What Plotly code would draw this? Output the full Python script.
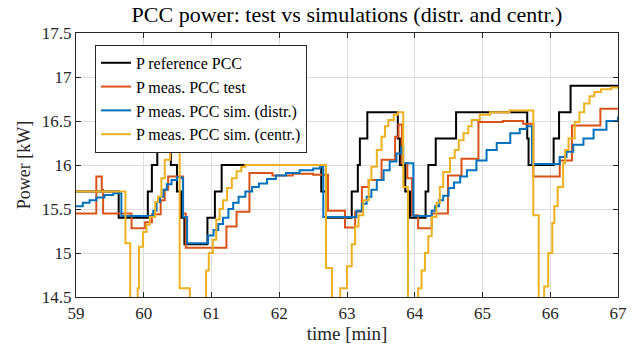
import plotly.graph_objects as go

# ---------------- data ----------------
ref_t = [59.00, 59.63, 60.06, 60.12, 60.20, 60.40, 60.49, 60.55, 60.60, 60.94, 61.05, 61.15,
         62.62, 62.69, 63.07, 63.16, 63.19, 63.30, 63.75, 63.78, 63.86, 63.93, 64.16, 64.20,
         64.31, 64.61, 65.66, 65.68, 66.05, 66.13, 66.30, 67.00]
ref_p = [15.7, 15.4, 15.7, 16.0, 16.3, 16.0, 15.7, 15.4, 15.1, 15.4, 15.7, 16.0,
         15.7, 15.4, 15.7, 16.0, 16.3, 16.6, 16.3, 16.0, 15.7, 15.4, 15.7, 16.0,
         16.3, 16.6, 16.3, 16.0, 16.3, 16.6, 16.9, 16.9]

test_t = [59.00, 59.30, 59.38, 59.40, 59.82, 60.02, 60.12, 60.25, 60.31, 60.36, 60.58, 60.62,
          61.22, 61.37, 61.56, 61.90, 62.20, 62.50, 62.72, 62.97, 63.12, 63.22, 63.32, 63.51,
          63.71, 63.76, 63.81, 63.89, 63.96, 64.05, 64.25, 64.49, 64.69, 64.94, 65.30, 65.60,
          65.75, 66.14, 66.32, 66.74, 67.00]
test_p = [15.45, 15.87, 15.72, 15.45, 15.28, 15.35, 15.44, 15.60, 15.72, 15.87, 15.45, 15.06,
          15.30, 15.47, 15.91, 15.88, 15.90, 15.89, 15.48, 15.29, 15.47, 15.75, 15.83, 16.06,
          16.32, 16.46, 16.02, 15.85, 15.43, 15.28, 15.45, 15.88, 16.07, 16.49, 16.50, 16.47,
          15.87, 16.05, 16.45, 16.64, 16.64]

distr_t = [59.00, 59.10, 59.20, 59.30, 59.42, 59.55, 59.67, 60.14, 60.19, 60.24, 60.29, 60.34,
           60.41, 60.49, 60.56, 60.58, 60.64, 60.95, 61.03, 61.10, 61.17, 61.25, 61.32, 61.40,
           61.50, 61.60, 61.70, 61.82, 61.95, 62.10, 62.30, 62.50, 62.60, 62.65, 63.14, 63.22,
           63.29, 63.36, 63.44, 63.54, 63.63, 63.73, 63.80, 63.83, 63.98, 64.25, 64.30, 64.36,
           64.42, 64.50, 64.58, 64.67, 64.77, 64.91, 65.06, 65.21, 65.41, 65.55, 65.65, 65.73,
           66.14, 66.24, 66.34, 66.49, 66.64, 66.83, 67.00]
distr_p = [15.53, 15.57, 15.60, 15.63, 15.66, 15.68, 15.42, 15.48, 15.58, 15.64, 15.72, 15.78,
           15.83, 15.86, 15.85, 15.41, 15.11, 15.20, 15.26, 15.33, 15.40, 15.50, 15.57, 15.64,
           15.70, 15.75, 15.79, 15.84, 15.88, 15.91, 15.94, 15.96, 15.98, 15.41, 15.48, 15.56,
           15.64, 15.72, 15.83, 15.94, 16.04, 16.13, 16.20, 16.02, 15.42, 15.48, 15.53, 15.60,
           15.65, 15.74, 15.80, 15.87, 15.94, 16.05, 16.17, 16.25, 16.36, 16.41, 16.44, 16.01,
           16.09, 16.15, 16.23, 16.30, 16.40, 16.50, 16.55]

centr_t = [59.00, 59.73, 59.80, 59.91, 59.93, 59.99, 60.04, 60.09, 60.17, 60.21, 60.26, 60.31,
           60.39, 60.53, 60.68, 60.92, 60.96, 61.02, 61.07, 61.12, 61.17, 61.23, 61.30, 61.37,
           61.44, 61.50, 62.69, 62.78, 62.90, 63.00, 63.07, 63.12, 63.17, 63.24, 63.32, 63.36,
           63.44, 63.51, 63.56, 63.61, 63.69, 63.75, 63.83, 63.90, 64.05, 64.10, 64.15, 64.20,
           64.25, 64.32, 64.37, 64.42, 64.52, 64.59, 64.65, 64.72, 64.79, 64.84, 64.96, 65.11,
           65.40, 65.75, 65.83, 65.91, 65.97, 66.03, 66.06, 66.11, 66.19, 66.22, 66.27, 66.36,
           66.43, 66.50, 66.58, 66.65, 66.75, 66.90, 67.00]
centr_p = [15.70, 15.11, 14.20, 14.60, 15.07, 15.24, 15.32, 15.41, 15.58, 15.64, 15.85, 16.06,
           16.19, 14.60, 14.20, 14.80, 15.00, 15.15, 15.38, 15.50, 15.60, 15.74, 15.85, 15.93,
           15.98, 16.00, 14.83, 14.20, 14.60, 14.85, 15.10, 15.30, 15.43, 15.60, 15.83, 15.98,
           16.17, 16.32, 16.44, 16.51, 16.57, 16.60, 15.75, 14.20, 14.60, 14.80, 15.00, 15.19,
           15.41, 15.57, 15.75, 15.92, 16.08, 16.17, 16.28, 16.36, 16.44, 16.51, 16.57, 16.60,
           16.62, 15.43, 14.20, 14.62, 15.00, 15.34, 15.53, 15.75, 16.02, 16.17, 16.30, 16.49,
           16.60, 16.70, 16.78, 16.83, 16.86, 16.88, 16.88]

series_names = ["P reference PCC", "P meas. PCC test",
                "P meas. PCC sim. (distr.)", "P meas. PCC sim. (centr.)"]
series_colors = ["#000000", "#D95319", "#0072BD", "#EDB120"]

x_ticks = [59, 60, 61, 62, 63, 64, 65, 66, 67]
y_ticks = [14.5, 15, 15.5, 16, 16.5, 17, 17.5]
y_ticktext = ["14.5", "15", "15.5", "16", "16.5", "17", "17.5"]

FONT = "Liberation Serif"

fig = go.Figure()
for t, p, name, col in zip([ref_t, test_t, distr_t, centr_t],
                           [ref_p, test_p, distr_p, centr_p],
                           series_names, series_colors):
    fig.add_trace(go.Scatter(x=t, y=p, mode="lines", name=name,
                             line=dict(color=col, width=2, shape="hv")))

axis_common = dict(showline=True, linecolor="#262626", linewidth=1.3, mirror="ticks",
                   ticks="inside", ticklen=5, tickcolor="#262626", tickwidth=1.3,
                   showgrid=True, gridcolor="#dcdcdc", gridwidth=1, zeroline=False,
                   automargin=False,
                   tickfont=dict(family=FONT, size=17, color="#262626"))

fig.update_xaxes(range=[59, 67], tickvals=x_ticks, ticktext=[str(v) for v in x_ticks],
                 title=dict(text="time [min]", font=dict(family=FONT, size=19, color="#262626"),
                            standoff=0),
                 **axis_common)
fig.update_yaxes(range=[14.5, 17.5], tickvals=y_ticks, ticktext=y_ticktext,
                 title=dict(text="Power [kW]", font=dict(family=FONT, size=18, color="#262626"),
                            standoff=6),
                 **axis_common)

fig.update_layout(
    width=634, height=345,
    margin=dict(l=76, r=16, t=33, b=48),
    paper_bgcolor="white", plot_bgcolor="white",
    title=dict(text="PCC power: test vs simulations (distr. and centr.)",
               font=dict(family=FONT, size=22, color="#000000"),
               x=0.5, xref="paper", xanchor="center",
               y=1 - 14 / 345, yref="container", yanchor="middle"),
    legend=dict(x=0.035, y=0.955, xanchor="left", yanchor="top",
                bgcolor="white", bordercolor="#262626", borderwidth=1,
                font=dict(family=FONT, size=16, color="#000000"),
                itemwidth=30, tracegroupgap=0),
    showlegend=True,
)

fig.write_html("out.html", config={"displayModeBar": False},
               post_script="document.body.style.margin='0';document.body.style.padding='0';")
